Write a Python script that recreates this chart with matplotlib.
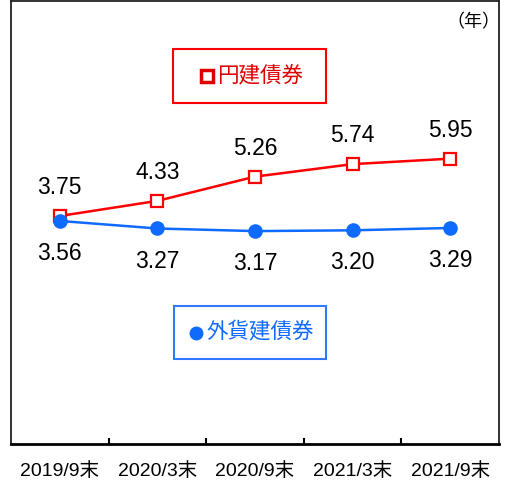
import matplotlib
matplotlib.use("Agg")
import matplotlib.pyplot as plt
from matplotlib.patches import Rectangle
from matplotlib.ticker import FixedLocator

plt.rcParams['font.family'] = ['Liberation Sans', 'Noto Sans CJK JP', 'DejaVu Sans']

categories = ["2019/9末", "2020/3末", "2020/9末", "2021/3末", "2021/9末"]
yen_bonds = [3.75, 4.33, 5.26, 5.74, 5.95]
fx_bonds = [3.56, 3.27, 3.17, 3.20, 3.29]
yen_label = "円建債券"
fx_label = "外貨建債券"
unit_label = "（年）"

RED = "#FF0000"
BLUE = "#0F6BFF"

W, H = 505, 483
fig = plt.figure(figsize=(W / 100, H / 100), dpi=100)
L, R, T, B = 11, 499, 1, 444
ax = fig.add_axes([L / W, (H - B) / H, (R - L) / W, (B - T) / H])

x = list(range(len(categories)))
ax.plot(x, yen_bonds, color=RED, lw=1.8, marker='s', ms=9, mfc='white',
        mec=RED, mew=1.6, zorder=3)
ax.plot(x, fx_bonds, color=BLUE, lw=1.8, marker='o', ms=9.5, mfc=BLUE,
        mec=BLUE, zorder=4)

for xi, v in zip(x, yen_bonds):
    ax.annotate(f"{v:.2f}", (xi, v), xytext=(0, 20.5), textcoords='offset points',
                ha='center', va='center', fontsize=16.5, color='black')
for xi, v in zip(x, fx_bonds):
    ax.annotate(f"{v:.2f}", (xi, v), xytext=(0, -23.5), textcoords='offset points',
                ha='center', va='center', fontsize=16.5, color='black')

ax.set_xlim(-0.5, len(categories) - 0.5)
ax.set_ylim(-5, 12)
ax.set_yticks([])
ax.set_xticks(x)
ax.set_xticklabels(categories, fontsize=14)
ax.tick_params(axis='x', which='major', length=0, pad=13)
ax.xaxis.set_minor_locator(FixedLocator([i + 0.5 for i in range(len(categories) - 1)]))
ax.tick_params(axis='x', which='minor', direction='in', length=4, width=1.5,
               color='black')

for s in ['left', 'right', 'top']:
    ax.spines[s].set_linewidth(1.3)
    ax.spines[s].set_color('#222222')
ax.spines['bottom'].set_linewidth(2)
ax.spines['bottom'].set_color('black')

# unit label
ax.text(1.003, 0.95, unit_label, transform=ax.transAxes, ha='right', va='center',
        fontsize=13, color='black')

# legend boxes
def px_to_ax(px, py):
    return (px - L) / (R - L), (B - py) / (B - T)

x0, y1 = px_to_ax(173, 49)
x1, y0 = px_to_ax(326, 103)
ax.add_patch(Rectangle((x0, y0), x1 - x0, y1 - y0, transform=ax.transAxes,
                       fill=False, edgecolor=RED, lw=1.5, zorder=5))
mx, my = px_to_ax(207, 76)
ax.plot([mx], [my], marker='s', ms=8, mfc='white', mec='#E00000', mew=2.5,
        transform=ax.transAxes, zorder=6)
tx, ty = px_to_ax(260, 76)
ax.text(tx, ty, yen_label, transform=ax.transAxes, ha='center', va='center',
        fontsize=15.5, color='#E00000')

x0, y1 = px_to_ax(174, 306)
x1, y0 = px_to_ax(326, 359)
ax.add_patch(Rectangle((x0, y0), x1 - x0, y1 - y0, transform=ax.transAxes,
                       fill=False, edgecolor='#3377FF', lw=1.5, zorder=5))
mx, my = px_to_ax(196, 333)
ax.plot([mx], [my], marker='o', ms=9, mfc=BLUE, mec=BLUE,
        transform=ax.transAxes, zorder=6)
tx, ty = px_to_ax(260, 333)
ax.text(tx, ty, fx_label, transform=ax.transAxes, ha='center', va='center',
        fontsize=15.5, color=BLUE)

fig.savefig("out.png", dpi=100)
